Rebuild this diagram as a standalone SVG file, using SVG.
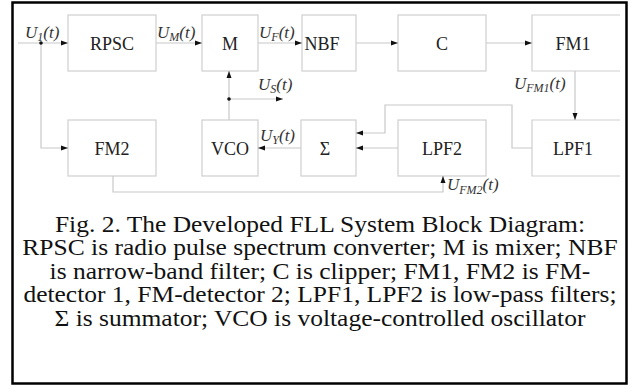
<svg xmlns="http://www.w3.org/2000/svg" width="639" height="389" viewBox="0 0 639 389">
<defs>
<marker id="ah" markerWidth="7" markerHeight="6" refX="7" refY="3" orient="auto" markerUnits="userSpaceOnUse">
<path d="M0,0.5 L7,3 L0,5.5 Z" fill="#111"/>
</marker>
<style>
.box{fill:#fff;stroke:#cfcfcf;stroke-width:1.2}
.bl{font-family:"Liberation Serif","Times New Roman",serif;font-size:18px;fill:#222;text-anchor:middle;dominant-baseline:central}
.cn{fill:none;stroke:#c8c8c8;stroke-width:1.2}
.ar{marker-end:url(#ah)}
.lab{font-family:"Liberation Serif","Times New Roman",serif;font-size:17px;font-style:italic;fill:#333}
.sub{font-size:12px}
.cap{font-family:"Liberation Serif","Times New Roman",serif;font-size:22.5px;fill:#111;text-anchor:middle}
.dot{fill:#111}
</style>
</defs>
<rect x="0" y="0" width="639" height="389" fill="#fff"/>
<rect x="12.5" y="2.5" width="614" height="381" fill="none" stroke="#000" stroke-width="2.5"/>

<g id="RPSC"><rect class="box" x="68" y="15" width="88" height="56"/><text class="bl" x="112" y="44">RPSC</text></g>
<g id="M"><rect class="box" x="202" y="15" width="56" height="56"/><text class="bl" x="230" y="44">M</text></g>
<g id="NBF"><rect class="box" x="302" y="15" width="54" height="56"/><text class="bl" x="322" y="44">NBF</text></g>
<g id="C"><rect class="box" x="398" y="15" width="88" height="56"/><text class="bl" x="442" y="44">C</text></g>
<g id="FM1"><path class="box" d="M620,15 H532 V71 H620"/><text class="bl" x="573" y="44">FM1</text></g>
<g id="FM2"><rect class="box" x="68" y="120" width="88" height="56"/><text class="bl" x="112" y="149">FM2</text></g>
<g id="VCO"><rect class="box" x="202" y="120" width="56" height="56"/><text class="bl" x="230" y="149">VCO</text></g>
<g id="SUM"><rect class="box" x="301" y="120" width="55" height="56"/><text class="bl" x="325" y="149">Σ</text></g>
<g id="LPF2"><rect class="box" x="398" y="120" width="88" height="56"/><text class="bl" x="442" y="149">LPF2</text></g>
<g id="LPF1"><path class="box" d="M620,120 H532 V176 H620"/><text class="bl" x="573" y="149">LPF1</text></g>

<g id="connectors">
<path class="cn ar" d="M18,43 H68"/>
<path class="cn ar" d="M41,43 V148 H68"/>
<path class="cn ar" d="M156,43 H202"/>
<path class="cn ar" d="M258,43 H302"/>
<path class="cn ar" d="M356,43 H398"/>
<path class="cn ar" d="M486,43 H532"/>
<path class="cn ar" d="M575,71 V120"/>
<path class="cn ar" d="M532,148 H512 V105 H385 V133 H356"/>
<path class="cn ar" d="M398,148 H356"/>
<path class="cn ar" d="M301,148 H258"/>
<path class="cn ar" d="M229,120 V71"/>
<path class="cn ar" d="M229,99 H283"/>
<path class="cn ar" d="M113,176 V192 H443 V176"/>
<circle class="dot" cx="41" cy="43" r="1.8"/>
<circle class="dot" cx="229" cy="99" r="1.8"/>
</g>

<g id="labels">
<text class="lab" x="25" y="38">U<tspan class="sub" dy="3">1</tspan><tspan dy="-3">(t)</tspan></text>
<text class="lab" x="157" y="38">U<tspan class="sub" dy="3">M</tspan><tspan dy="-3">(t)</tspan></text>
<text class="lab" x="259" y="38">U<tspan class="sub" dy="3">F</tspan><tspan dy="-3">(t)</tspan></text>
<text class="lab" x="258" y="90">U<tspan class="sub" dy="3">S</tspan><tspan dy="-3">(t)</tspan></text>
<text class="lab" x="260" y="141">U<tspan class="sub" dy="3">Y</tspan><tspan dy="-3">(t)</tspan></text>
<text class="lab" x="514" y="89">U<tspan class="sub" dy="3">FM1</tspan><tspan dy="-3">(t)</tspan></text>
<text class="lab" x="447" y="190">U<tspan class="sub" dy="4">FM2</tspan><tspan dy="-4">(t)</tspan></text>
</g>

<g id="caption" transform="scale(1.133,1)">
<text class="cap" x="282.4" y="232">Fig. 2. The Developed FLL System Block Diagram:</text>
<text class="cap" x="282.4" y="255.5">RPSC is radio pulse spectrum converter; M is mixer; NBF</text>
<text class="cap" x="282.4" y="279">is narrow-band filter; C is clipper; FM1, FM2 is FM-</text>
<text class="cap" x="282.4" y="302.5">detector 1, FM-detector 2; LPF1, LPF2 is low-pass filters;</text>
<text class="cap" x="282.4" y="326">Σ is summator; VCO is voltage-controlled oscillator</text>
</g>
</svg>
